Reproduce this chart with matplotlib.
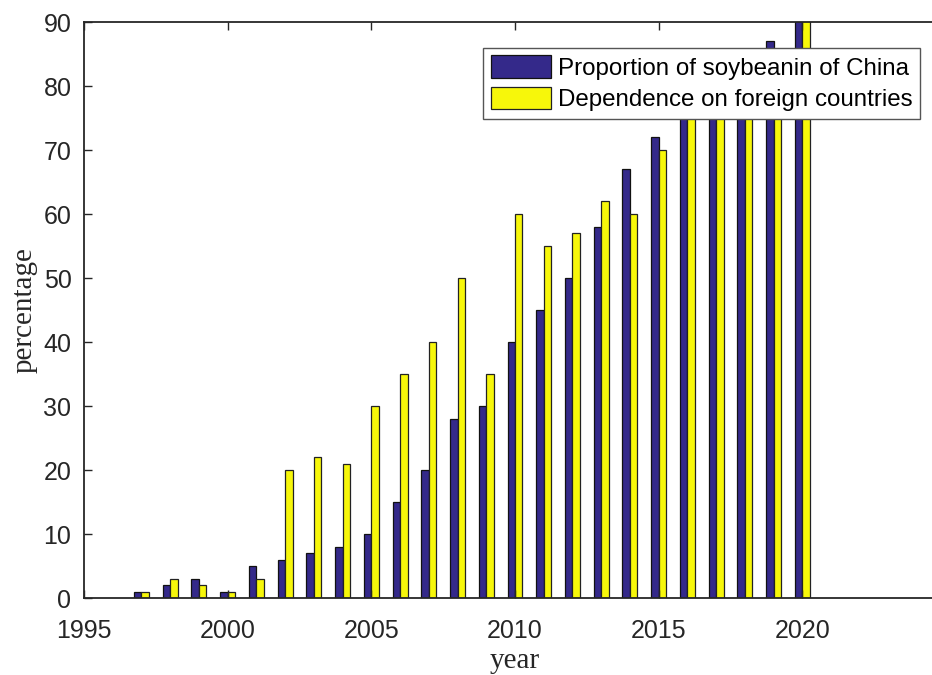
import matplotlib
matplotlib.use("Agg")
import matplotlib.pyplot as plt
import numpy as np

years = [1997, 1998, 1999, 2000, 2001, 2002, 2003, 2004, 2005, 2006, 2007, 2008,
         2009, 2010, 2011, 2012, 2013, 2014, 2015, 2016, 2017, 2018, 2019, 2020]
proportion = [1, 2, 3, 1, 5, 6, 7, 8, 10, 15, 20, 28,
              30, 40, 45, 50, 58, 67, 72, 80, 82, 84, 87, 92]
dependence = [1, 3, 2, 1, 3, 20, 22, 21, 30, 35, 40, 50,
              35, 60, 55, 57, 62, 60, 70, 78, 80, 83, 85, 92]
labels = ["Proportion of soybeanin of China", "Dependence on foreign countries"]
xticks = [1995, 2000, 2005, 2010, 2015, 2020]
yticks = list(range(0, 91, 10))

plt.rcParams["font.family"] = ["Liberation Sans", "DejaVu Sans"]

fig = plt.figure(figsize=(9.32, 6.75), dpi=100)
ax = fig.add_axes([0.0901, 0.114, 0.925, 0.8533])

x = np.array(years, dtype=float)
w = 0.26
blue = "#34298a"
yellow = "#f7f70a"
ax.bar(x - w / 2, proportion, width=w, color=blue, edgecolor="#111111",
       linewidth=0.9, label=labels[0])
ax.bar(x + w / 2, dependence, width=w, color=yellow, edgecolor="#222222",
       linewidth=0.9, label=labels[1])

ax.set_xlim(1995, 2025)
ax.set_ylim(0, 90)
ax.set_xticks(xticks)
ax.set_yticks(yticks)

dark = "#262626"
for s in ax.spines.values():
    s.set_color(dark)
    s.set_linewidth(1.3)
ax.tick_params(direction="in", length=6, width=1.0, colors=dark,
               labelsize=18, top=True, right=True)
ax.tick_params(axis="x", pad=15)
ax.tick_params(axis="y", pad=9)

ax.set_xlabel("year", fontsize=21, family=["Liberation Serif"], color=dark,
              labelpad=4)
ax.set_ylabel("percentage", fontsize=21, family=["Liberation Serif"], color=dark,
              labelpad=4)

leg = ax.legend(loc="upper right", bbox_to_anchor=(0.97, 0.955), fontsize=17.4,
                frameon=True, fancybox=False, framealpha=1.0,
                handlelength=2.5, handleheight=1.05, handletextpad=0.3,
                borderpad=0.3, labelspacing=0.3, borderaxespad=0)
leg.get_frame().set_edgecolor("#555555")
leg.get_frame().set_linewidth(1.0)

fig.savefig("out.png", dpi=100)
